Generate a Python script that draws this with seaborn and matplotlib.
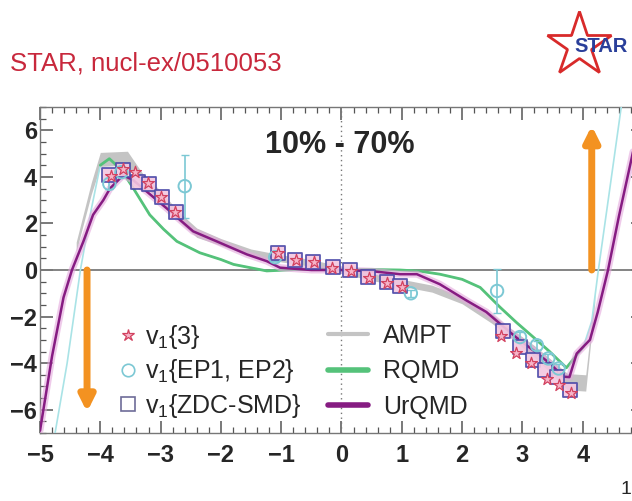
import matplotlib
matplotlib.use("Agg")
import matplotlib.pyplot as plt
from matplotlib.lines import Line2D
from matplotlib.ticker import MultipleLocator
import numpy as np
import pandas as pd
import seaborn as sns

# v1{3}
v3_eta = [-3.82, -3.62, -3.42, -3.21, -2.99, -2.76,
          -1.05, -0.75, -0.45, -0.15, 0.15, 0.45, 0.75, 1.0,
          2.65, 2.9, 3.15, 3.4, 3.6, 3.8]
v3_v1 = [4.05, 4.35, 4.2, 3.75, 3.15, 2.5,
         0.72, 0.45, 0.33, 0.1, -0.05, -0.33, -0.55, -0.72,
         -2.85, -3.55, -4.0, -4.7, -4.95, -5.3]

# v1{EP1, EP2}
ep_eta = [-3.85, -3.65, -2.6, -1.1, 1.15, 2.58, 2.96, 3.24, 3.43, 3.6]
ep_v1 = [3.7, 4.2, 3.6, 0.55, -1.0, -0.9, -2.88, -3.23, -3.8, -4.23]
ep_err = [0.2, 0.2, 1.35, 0.15, 0.15, 0.95, 0.2, 0.2, 0.2, 0.2]

# v1{ZDC-SMD}
zdc_eta = [-3.85, -3.62, -3.38, -3.2, -2.98, -2.75,
           -1.05, -0.77, -0.47, -0.14, 0.14, 0.44, 0.75, 0.97,
           2.68, 2.96, 3.18, 3.37, 3.57, 3.79]
zdc_v1 = [4.1, 4.3, 3.8, 3.7, 3.15, 2.5,
          0.75, 0.42, 0.36, 0.12, -0.02, -0.3, -0.5, -0.7,
          -2.6, -3.3, -3.87, -4.3, -4.58, -5.15]

# AMPT band
ampt_eta = [-4.4, -4.15, -4.0, -3.55, -3.3, -3.0, -2.7, -2.4, -2.0, -1.5, -1.0, -0.5,
            0.0, 0.5, 1.0, 1.5, 2.0, 2.5, 2.8, 3.2, 3.5, 3.75, 4.05, 4.2]
ampt_v1 = [1.0, 3.5, 4.75, 4.8, 3.9, 3.2, 2.3, 1.6, 1.2, 0.75, 0.5, 0.3,
           0.0, -0.3, -0.55, -0.8, -1.3, -2.1, -2.7, -3.5, -4.2, -4.8, -4.85, -1.2]
ampt_hw = [0.2, 0.25, 0.3, 0.3, 0.25, 0.2, 0.2, 0.2, 0.15, 0.15, 0.15, 0.15,
           0.15, 0.15, 0.15, 0.15, 0.15, 0.2, 0.2, 0.25, 0.3, 0.35, 0.35, 0.2]

# RQMD
rqmd_eta = [-4.75, -4.55, -4.33, -4.15, -4.0, -3.85, -3.65, -3.45, -3.18, -2.95, -2.73,
            -2.35, -2.0, -1.79, -1.24, -0.5, 0.0, 0.5, 0.97, 1.3, 1.63, 2.0, 2.3,
            2.63, 2.9, 3.18, 3.45, 3.73, 4.01, 4.15, 4.26, 4.45, 4.65]
rqmd_v1 = [-7.0, -4.0, 0.0, 2.6, 4.5, 4.78, 4.3, 3.5, 2.37, 1.75, 1.23,
           0.74, 0.45, 0.24, -0.04, 0.05, 0.0, 0.02, 0.0, -0.05, -0.18, -0.4, -0.75,
           -1.6, -2.25, -2.88, -3.5, -4.2, -3.3, -2.2, 0.0, 3.5, 7.2]

# UrQMD
urqmd_eta = [-5.0, -4.8, -4.61, -4.47, -4.28, -4.12, -3.95, -3.84, -3.62, -3.45, -3.29,
             -2.9, -2.46, -2.07, -1.57, -1.24, -1.02, -0.5, 0.0, 0.5, 0.97, 1.25, 1.63,
             2.08, 2.4, 2.63, 2.9, 3.18, 3.45, 3.68, 3.78, 3.9, 4.12, 4.25, 4.42, 4.6,
             4.81, 4.95]
urqmd_v1 = [-6.9, -3.7, -1.18, 0.0, 1.23, 2.37, 3.0, 3.5, 4.07, 3.85, 3.5,
            2.65, 1.66, 1.23, 0.67, 0.38, 0.1, 0.0, 0.0, -0.05, -0.18, -0.18, -0.61,
            -1.32, -1.8, -2.31, -2.9, -3.45, -4.0, -4.58, -4.6, -3.59, -3.0, -1.8, 0.0, 2.3,
            4.78, 6.5]

# arrows (eta, tip)
arrow_eta = [-4.22, 4.15]
arrow_tip = [-6.1, 6.2]

x_ticks = [-5, -4, -3, -2, -1, 0, 1, 2, 3, 4]

sns.set_style("ticks")
plt.rcParams["font.family"] = ["Liberation Sans", "DejaVu Sans"]
plt.rcParams["mathtext.fontset"] = "custom"
plt.rcParams["mathtext.rm"] = "Liberation Sans"

fig = plt.figure(figsize=(6.32, 5.01), dpi=100)
ax = fig.add_axes([40 / 632, 68 / 501, 603 / 632, 326 / 501])

c_star = "#d2415f"
c_circ = "#7cc8d4"
c_sq = "#4a48a8"
c_ampt = "#c4c4c4"
c_rqmd = "#55c27a"
c_urqmd = "#861c82"
c_orange = "#f39221"

ax.axhline(0, color="#7a7a7a", lw=1.3, zorder=1)
ax.axvline(0, color="#777777", lw=1.0, ls=(0, (1, 2.5)), zorder=1)

ampt = pd.DataFrame({"eta": ampt_eta, "v1": ampt_v1, "hw": ampt_hw})
ax.fill_between(ampt.eta, ampt.v1 - ampt.hw, ampt.v1 + ampt.hw, color=c_ampt, lw=0, zorder=2)

rqmd = pd.DataFrame({"eta": rqmd_eta, "v1": rqmd_v1})
sns.lineplot(data=rqmd, x="eta", y="v1", sort=False, estimator=None, color="#a9e3e6",
             lw=1.2, ax=ax, zorder=3)
core = rqmd[rqmd.eta.abs() <= 4.05]
sns.lineplot(data=core, x="eta", y="v1", sort=False, estimator=None, color=c_rqmd,
             lw=2.0, ax=ax, zorder=3)

urqmd = pd.DataFrame({"eta": urqmd_eta, "v1": urqmd_v1})
sns.lineplot(data=urqmd, x="eta", y="v1", sort=False, estimator=None, color="#e4a8dc",
             lw=5, alpha=0.6, ax=ax, zorder=3)
sns.lineplot(data=urqmd, x="eta", y="v1", sort=False, estimator=None, color=c_urqmd,
             lw=1.8, ax=ax, zorder=4)

for x0, tip in zip(arrow_eta, arrow_tip):
    ax.annotate("", xy=(x0, tip), xytext=(x0, 0),
                arrowprops=dict(arrowstyle="-|>,head_width=0.45,head_length=0.9",
                                lw=5, color=c_orange, shrinkA=0, shrinkB=0), zorder=5)

ax.errorbar(ep_eta, ep_v1, yerr=ep_err, fmt="none", ecolor=c_circ, elinewidth=1.2,
            capsize=3, zorder=5)
sns.scatterplot(x=zdc_eta, y=zdc_v1, marker="s", s=105, facecolor="#f3c7e0",
                edgecolor=c_sq, linewidth=1.3, alpha=0.9, ax=ax, zorder=6)
sns.scatterplot(x=ep_eta, y=ep_v1, marker="o", s=80, facecolor="none",
                edgecolor=c_circ, linewidth=1.4, ax=ax, zorder=6)
sns.scatterplot(x=v3_eta, y=v3_v1, marker="*", s=80, facecolor="#f6b4c8",
                edgecolor=c_star, linewidth=0.9, ax=ax, zorder=7)

ax.text(-0.025, 5.38, "10% - 70%", fontsize=22, fontweight="bold", ha="center", va="center")

ax.set_xlim(-5, 5)
ax.set_ylim(-7, 7)
ax.set_xticks(x_ticks)
ax.xaxis.set_minor_locator(MultipleLocator(0.2))
ax.yaxis.set_major_locator(MultipleLocator(2))
ax.yaxis.set_minor_locator(MultipleLocator(0.5))
ax.tick_params(which="both", direction="in", top=True, right=True, color="#555555")
ax.tick_params(which="major", length=9, width=1.1, labelsize=17)
ax.tick_params(which="minor", length=4, width=0.9)
for lab in ax.get_xticklabels() + ax.get_yticklabels():
    lab.set_fontweight("bold")
ax.tick_params(axis="x", pad=8)
ax.tick_params(axis="y", pad=2)
ax.set_xlabel("")
ax.set_ylabel("")
for sp in ax.spines.values():
    sp.set_color("#777777")
    sp.set_linewidth(1.0)

marker_handles = [
    Line2D([], [], ls="none", marker="*", ms=9, mfc="#f6b4c8", mec=c_star, mew=0.9),
    Line2D([], [], ls="none", marker="o", ms=9, mfc="none", mec=c_circ, mew=1.2),
    Line2D([], [], ls="none", marker="s", ms=10, mfc="none", mec="#6e6c98", mew=1.2),
]
marker_labels = ["v$_\\mathregular{1}${3}", "v$_\\mathregular{1}${EP1, EP2}",
                 "v$_\\mathregular{1}${ZDC-SMD}"]
line_handles = [
    Line2D([], [], color=c_ampt, lw=3),
    Line2D([], [], color=c_rqmd, lw=4),
    Line2D([], [], color=c_urqmd, lw=4),
]
line_labels = ["AMPT", "RQMD", "UrQMD"]

leg1 = ax.legend(marker_handles, marker_labels, frameon=False, fontsize=18,
                 loc="upper left", bbox_to_anchor=(0.125, 0.337), borderpad=0,
                 borderaxespad=0, handlelength=1.0, handletextpad=0.2, labelspacing=0.25)
ax.add_artist(leg1)
ax.legend(line_handles, line_labels, frameon=False, fontsize=18,
          loc="upper left", bbox_to_anchor=(0.4776, 0.334), borderpad=0,
          borderaxespad=0, handlelength=1.6, handletextpad=0.6, labelspacing=0.45)

fig.text(10 / 632, 1 - 63 / 501, "STAR, nucl-ex/0510053", color="#c8283c", fontsize=18.5,
         va="center", ha="left")
fig.add_artist(Line2D([579 / 632], [1 - 45 / 501], marker="*", ms=48.5, mfc="white",
                      mec="#d82a2a", mew=2.0, transform=fig.transFigure))
fig.text(574 / 632, 1 - 47 / 501, "STAR", color="#2a3f9a", fontsize=14.5,
         fontweight="bold", va="center", ha="left")
fig.text(621 / 632, 1 - 490 / 501, "1", fontsize=14, va="center", ha="left")

fig.savefig("out.png", dpi=100)
